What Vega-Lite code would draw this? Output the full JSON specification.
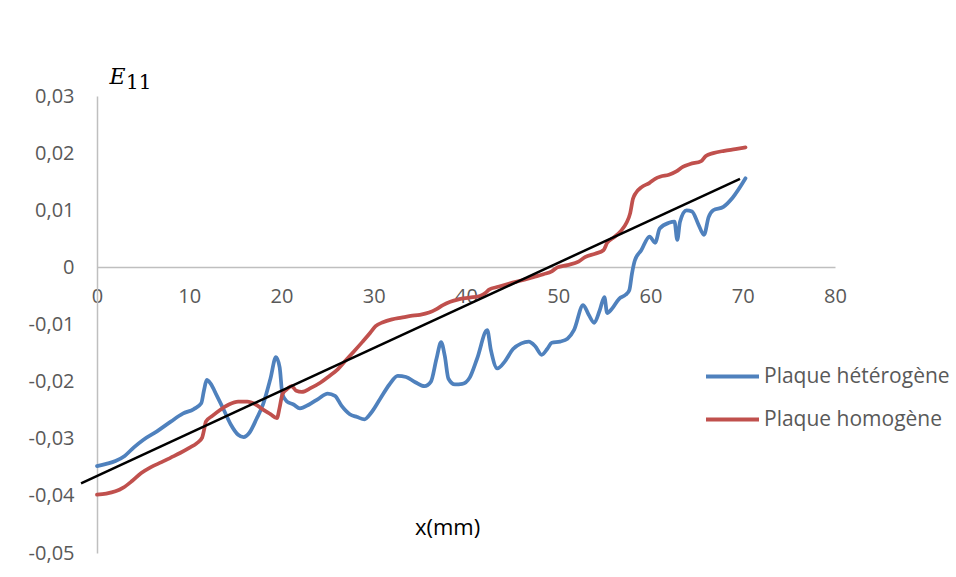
{
  "$schema": "https://vega.github.io/schema/vega-lite/v6.json",
  "width": 738,
  "height": 457,
  "autosize": {"type": "none"},
  "padding": {"left": 97, "top": 96, "right": 121, "bottom": 24},
  "background": "white",
  "config": {"view": {"stroke": null}, "font": "Open Sans"},
  "title": {
    "text": "11",
    "anchor": "start",
    "frame": "group",
    "font": "DejaVu Serif",
    "fontSize": 20,
    "fontWeight": "normal",
    "color": "#000000",
    "dx": 29,
    "dy": 51,
    "offset": 7,
    "baseline": "alphabetic"
  },
  "datasets": {
    "curves": [
      {"x": 0, "e11": -0.0348, "serie": "Plaque hétérogène"},
      {"x": 1, "e11": -0.0344, "serie": "Plaque hétérogène"},
      {"x": 2, "e11": -0.0339, "serie": "Plaque hétérogène"},
      {"x": 3, "e11": -0.033, "serie": "Plaque hétérogène"},
      {"x": 4, "e11": -0.0315, "serie": "Plaque hétérogène"},
      {"x": 5, "e11": -0.0302, "serie": "Plaque hétérogène"},
      {"x": 6.5, "e11": -0.0287, "serie": "Plaque hétérogène"},
      {"x": 8, "e11": -0.027, "serie": "Plaque hétérogène"},
      {"x": 9.3, "e11": -0.0256, "serie": "Plaque hétérogène"},
      {"x": 10.5, "e11": -0.0248, "serie": "Plaque hétérogène"},
      {"x": 11.3, "e11": -0.0238, "serie": "Plaque hétérogène"},
      {"x": 11.6, "e11": -0.0215, "serie": "Plaque hétérogène"},
      {"x": 11.9, "e11": -0.0197, "serie": "Plaque hétérogène"},
      {"x": 12.3, "e11": -0.0203, "serie": "Plaque hétérogène"},
      {"x": 13, "e11": -0.0225, "serie": "Plaque hétérogène"},
      {"x": 13.7, "e11": -0.0248, "serie": "Plaque hétérogène"},
      {"x": 14.5, "e11": -0.0275, "serie": "Plaque hétérogène"},
      {"x": 15.3, "e11": -0.0293, "serie": "Plaque hétérogène"},
      {"x": 15.9, "e11": -0.0297, "serie": "Plaque hétérogène"},
      {"x": 16.5, "e11": -0.029, "serie": "Plaque hétérogène"},
      {"x": 17.3, "e11": -0.0265, "serie": "Plaque hétérogène"},
      {"x": 18, "e11": -0.024, "serie": "Plaque hétérogène"},
      {"x": 18.8, "e11": -0.0195, "serie": "Plaque hétérogène"},
      {"x": 19.4, "e11": -0.0157, "serie": "Plaque hétérogène"},
      {"x": 19.8, "e11": -0.0175, "serie": "Plaque hétérogène"},
      {"x": 20.1, "e11": -0.0222, "serie": "Plaque hétérogène"},
      {"x": 20.6, "e11": -0.0235, "serie": "Plaque hétérogène"},
      {"x": 21.3, "e11": -0.024, "serie": "Plaque hétérogène"},
      {"x": 22, "e11": -0.0247, "serie": "Plaque hétérogène"},
      {"x": 23, "e11": -0.024, "serie": "Plaque hétérogène"},
      {"x": 24, "e11": -0.023, "serie": "Plaque hétérogène"},
      {"x": 25, "e11": -0.0221, "serie": "Plaque hétérogène"},
      {"x": 25.8, "e11": -0.0225, "serie": "Plaque hétérogène"},
      {"x": 26.5, "e11": -0.0242, "serie": "Plaque hétérogène"},
      {"x": 27.4, "e11": -0.0257, "serie": "Plaque hétérogène"},
      {"x": 28.2, "e11": -0.0262, "serie": "Plaque hétérogène"},
      {"x": 29, "e11": -0.0266, "serie": "Plaque hétérogène"},
      {"x": 29.7, "e11": -0.0255, "serie": "Plaque hétérogène"},
      {"x": 30.7, "e11": -0.023, "serie": "Plaque hétérogène"},
      {"x": 31.7, "e11": -0.0205, "serie": "Plaque hétérogène"},
      {"x": 32.6, "e11": -0.019, "serie": "Plaque hétérogène"},
      {"x": 33.5, "e11": -0.0192, "serie": "Plaque hétérogène"},
      {"x": 34.5, "e11": -0.0201, "serie": "Plaque hétérogène"},
      {"x": 35.5, "e11": -0.0208, "serie": "Plaque hétérogène"},
      {"x": 36.2, "e11": -0.02, "serie": "Plaque hétérogène"},
      {"x": 36.8, "e11": -0.016, "serie": "Plaque hétérogène"},
      {"x": 37.3, "e11": -0.0131, "serie": "Plaque hétérogène"},
      {"x": 37.7, "e11": -0.0155, "serie": "Plaque hétérogène"},
      {"x": 38.1, "e11": -0.0195, "serie": "Plaque hétérogène"},
      {"x": 38.8, "e11": -0.0205, "serie": "Plaque hétérogène"},
      {"x": 39.6, "e11": -0.0204, "serie": "Plaque hétérogène"},
      {"x": 40.4, "e11": -0.0193, "serie": "Plaque hétérogène"},
      {"x": 41.2, "e11": -0.016, "serie": "Plaque hétérogène"},
      {"x": 42.3, "e11": -0.011, "serie": "Plaque hétérogène"},
      {"x": 42.7, "e11": -0.0145, "serie": "Plaque hétérogène"},
      {"x": 43.4, "e11": -0.0177, "serie": "Plaque hétérogène"},
      {"x": 44.2, "e11": -0.0165, "serie": "Plaque hétérogène"},
      {"x": 45.1, "e11": -0.0143, "serie": "Plaque hétérogène"},
      {"x": 46, "e11": -0.0133, "serie": "Plaque hétérogène"},
      {"x": 46.8, "e11": -0.013, "serie": "Plaque hétérogène"},
      {"x": 47.5, "e11": -0.0138, "serie": "Plaque hétérogène"},
      {"x": 48.2, "e11": -0.0153, "serie": "Plaque hétérogène"},
      {"x": 48.8, "e11": -0.0143, "serie": "Plaque hétérogène"},
      {"x": 49.3, "e11": -0.0132, "serie": "Plaque hétérogène"},
      {"x": 50.2, "e11": -0.013, "serie": "Plaque hétérogène"},
      {"x": 51, "e11": -0.0125, "serie": "Plaque hétérogène"},
      {"x": 51.7, "e11": -0.011, "serie": "Plaque hétérogène"},
      {"x": 52.7, "e11": -0.0066, "serie": "Plaque hétérogène"},
      {"x": 53.3, "e11": -0.0083, "serie": "Plaque hétérogène"},
      {"x": 53.9, "e11": -0.0097, "serie": "Plaque hétérogène"},
      {"x": 54.5, "e11": -0.0075, "serie": "Plaque hétérogène"},
      {"x": 55, "e11": -0.0052, "serie": "Plaque hétérogène"},
      {"x": 55.3, "e11": -0.008, "serie": "Plaque hétérogène"},
      {"x": 55.8, "e11": -0.0073, "serie": "Plaque hétérogène"},
      {"x": 56.6, "e11": -0.0055, "serie": "Plaque hétérogène"},
      {"x": 57.3, "e11": -0.0048, "serie": "Plaque hétérogène"},
      {"x": 57.7, "e11": -0.004, "serie": "Plaque hétérogène"},
      {"x": 58, "e11": -0.001, "serie": "Plaque hétérogène"},
      {"x": 58.3, "e11": 0.0012, "serie": "Plaque hétérogène"},
      {"x": 59, "e11": 0.003, "serie": "Plaque hétérogène"},
      {"x": 59.9, "e11": 0.0054, "serie": "Plaque hétérogène"},
      {"x": 60.5, "e11": 0.0043, "serie": "Plaque hétérogène"},
      {"x": 61, "e11": 0.0068, "serie": "Plaque hétérogène"},
      {"x": 62, "e11": 0.0078, "serie": "Plaque hétérogène"},
      {"x": 62.6, "e11": 0.008, "serie": "Plaque hétérogène"},
      {"x": 62.9, "e11": 0.0048, "serie": "Plaque hétérogène"},
      {"x": 63.2, "e11": 0.008, "serie": "Plaque hétérogène"},
      {"x": 63.9, "e11": 0.01, "serie": "Plaque hétérogène"},
      {"x": 64.5, "e11": 0.0098, "serie": "Plaque hétérogène"},
      {"x": 65.2, "e11": 0.0075, "serie": "Plaque hétérogène"},
      {"x": 65.8, "e11": 0.0057, "serie": "Plaque hétérogène"},
      {"x": 66.3, "e11": 0.0088, "serie": "Plaque hétérogène"},
      {"x": 66.8, "e11": 0.01, "serie": "Plaque hétérogène"},
      {"x": 67.9, "e11": 0.0106, "serie": "Plaque hétérogène"},
      {"x": 68.9, "e11": 0.0122, "serie": "Plaque hétérogène"},
      {"x": 70.3, "e11": 0.0156, "serie": "Plaque hétérogène"},
      {"x": 0, "e11": -0.0398, "serie": "Plaque homogène"},
      {"x": 1, "e11": -0.0396, "serie": "Plaque homogène"},
      {"x": 2, "e11": -0.0392, "serie": "Plaque homogène"},
      {"x": 2.8, "e11": -0.0386, "serie": "Plaque homogène"},
      {"x": 3.8, "e11": -0.0374, "serie": "Plaque homogène"},
      {"x": 4.8, "e11": -0.036, "serie": "Plaque homogène"},
      {"x": 5.8, "e11": -0.035, "serie": "Plaque homogène"},
      {"x": 7, "e11": -0.0341, "serie": "Plaque homogène"},
      {"x": 8, "e11": -0.0333, "serie": "Plaque homogène"},
      {"x": 9, "e11": -0.0325, "serie": "Plaque homogène"},
      {"x": 10, "e11": -0.0316, "serie": "Plaque homogène"},
      {"x": 10.8, "e11": -0.0308, "serie": "Plaque homogène"},
      {"x": 11.4, "e11": -0.0298, "serie": "Plaque homogène"},
      {"x": 11.6, "e11": -0.0285, "serie": "Plaque homogène"},
      {"x": 11.8, "e11": -0.027, "serie": "Plaque homogène"},
      {"x": 12.5, "e11": -0.026, "serie": "Plaque homogène"},
      {"x": 13.3, "e11": -0.025, "serie": "Plaque homogène"},
      {"x": 14.3, "e11": -0.024, "serie": "Plaque homogène"},
      {"x": 15.3, "e11": -0.0235, "serie": "Plaque homogène"},
      {"x": 16.3, "e11": -0.0235, "serie": "Plaque homogène"},
      {"x": 17.2, "e11": -0.024, "serie": "Plaque homogène"},
      {"x": 18, "e11": -0.0249, "serie": "Plaque homogène"},
      {"x": 18.8, "e11": -0.0257, "serie": "Plaque homogène"},
      {"x": 19.5, "e11": -0.0264, "serie": "Plaque homogène"},
      {"x": 19.8, "e11": -0.0245, "serie": "Plaque homogène"},
      {"x": 20.1, "e11": -0.0222, "serie": "Plaque homogène"},
      {"x": 20.6, "e11": -0.0213, "serie": "Plaque homogène"},
      {"x": 21.1, "e11": -0.0208, "serie": "Plaque homogène"},
      {"x": 21.6, "e11": -0.0216, "serie": "Plaque homogène"},
      {"x": 22.2, "e11": -0.0218, "serie": "Plaque homogène"},
      {"x": 23.2, "e11": -0.0211, "serie": "Plaque homogène"},
      {"x": 24.2, "e11": -0.0202, "serie": "Plaque homogène"},
      {"x": 25.2, "e11": -0.019, "serie": "Plaque homogène"},
      {"x": 26, "e11": -0.018, "serie": "Plaque homogène"},
      {"x": 27, "e11": -0.0162, "serie": "Plaque homogène"},
      {"x": 27.8, "e11": -0.0148, "serie": "Plaque homogène"},
      {"x": 28.8, "e11": -0.013, "serie": "Plaque homogène"},
      {"x": 29.6, "e11": -0.0115, "serie": "Plaque homogène"},
      {"x": 30.2, "e11": -0.0103, "serie": "Plaque homogène"},
      {"x": 31, "e11": -0.0096, "serie": "Plaque homogène"},
      {"x": 32, "e11": -0.0091, "serie": "Plaque homogène"},
      {"x": 33, "e11": -0.0088, "serie": "Plaque homogène"},
      {"x": 34, "e11": -0.0085, "serie": "Plaque homogène"},
      {"x": 35, "e11": -0.0083, "serie": "Plaque homogène"},
      {"x": 36, "e11": -0.0079, "serie": "Plaque homogène"},
      {"x": 36.8, "e11": -0.0073, "serie": "Plaque homogène"},
      {"x": 37.5, "e11": -0.0066, "serie": "Plaque homogène"},
      {"x": 38.3, "e11": -0.006, "serie": "Plaque homogène"},
      {"x": 39.2, "e11": -0.0056, "serie": "Plaque homogène"},
      {"x": 40.4, "e11": -0.0053, "serie": "Plaque homogène"},
      {"x": 41.5, "e11": -0.005, "serie": "Plaque homogène"},
      {"x": 42.1, "e11": -0.0045, "serie": "Plaque homogène"},
      {"x": 42.5, "e11": -0.0039, "serie": "Plaque homogène"},
      {"x": 43.5, "e11": -0.0034, "serie": "Plaque homogène"},
      {"x": 44.8, "e11": -0.0028, "serie": "Plaque homogène"},
      {"x": 46, "e11": -0.0023, "serie": "Plaque homogène"},
      {"x": 47.3, "e11": -0.0017, "serie": "Plaque homogène"},
      {"x": 48.4, "e11": -0.0012, "serie": "Plaque homogène"},
      {"x": 49.3, "e11": -0.0007, "serie": "Plaque homogène"},
      {"x": 49.9, "e11": 0.0, "serie": "Plaque homogène"},
      {"x": 51, "e11": 0.0004, "serie": "Plaque homogène"},
      {"x": 52.2, "e11": 0.001, "serie": "Plaque homogène"},
      {"x": 52.9, "e11": 0.0018, "serie": "Plaque homogène"},
      {"x": 54, "e11": 0.0024, "serie": "Plaque homogène"},
      {"x": 54.9, "e11": 0.003, "serie": "Plaque homogène"},
      {"x": 55.3, "e11": 0.0043, "serie": "Plaque homogène"},
      {"x": 56, "e11": 0.0052, "serie": "Plaque homogène"},
      {"x": 56.8, "e11": 0.0064, "serie": "Plaque homogène"},
      {"x": 57.4, "e11": 0.0078, "serie": "Plaque homogène"},
      {"x": 57.8, "e11": 0.0095, "serie": "Plaque homogène"},
      {"x": 58.1, "e11": 0.012, "serie": "Plaque homogène"},
      {"x": 58.4, "e11": 0.013, "serie": "Plaque homogène"},
      {"x": 59, "e11": 0.014, "serie": "Plaque homogène"},
      {"x": 59.9, "e11": 0.0148, "serie": "Plaque homogène"},
      {"x": 60.5, "e11": 0.0155, "serie": "Plaque homogène"},
      {"x": 61.1, "e11": 0.0159, "serie": "Plaque homogène"},
      {"x": 62, "e11": 0.0162, "serie": "Plaque homogène"},
      {"x": 62.8, "e11": 0.0168, "serie": "Plaque homogène"},
      {"x": 63.5, "e11": 0.0176, "serie": "Plaque homogène"},
      {"x": 64.3, "e11": 0.0181, "serie": "Plaque homogène"},
      {"x": 65.5, "e11": 0.0186, "serie": "Plaque homogène"},
      {"x": 66, "e11": 0.0195, "serie": "Plaque homogène"},
      {"x": 66.8, "e11": 0.02, "serie": "Plaque homogène"},
      {"x": 68, "e11": 0.0204, "serie": "Plaque homogène"},
      {"x": 69.2, "e11": 0.0207, "serie": "Plaque homogène"},
      {"x": 70.3, "e11": 0.021, "serie": "Plaque homogène"}
    ],
    "trend": [
      {"x": -1.73, "e11": -0.0378},
      {"x": 69.7, "e11": 0.0155}
    ]
  },
  "layer": [
    {
      "data": {"name": "curves"},
      "mark": {"type": "line", "interpolate": "monotone", "strokeWidth": 3.75, "strokeCap": "round", "strokeJoin": "round"},
      "encoding": {
        "x": {
          "field": "x", "type": "quantitative",
          "scale": {"domain": [0, 80], "nice": false},
          "axis": {
            "values": [0, 10, 20, 30, 40, 50, 60, 70, 80],
            "offset": -286,
            "grid": false,
            "ticks": false,
            "domainColor": "#bfbfbf",
            "domainWidth": 1.5,
            "labelFont": "Open Sans",
            "labelFontSize": 20,
            "labelColor": "#595959",
            "labelPadding": 19,
            "labelFlush": false,
            "labelOverlap": false,
            "labelBound": false,
            "title": "x(mm)",
            "titleFont": "Open Sans",
            "titleFontSize": 22,
            "titleFontWeight": "normal",
            "titleColor": "#000000",
            "titleX": 350,
            "titleY": 260,
            "titleAlign": "center",
            "titleBaseline": "middle"
          }
        },
        "y": {
          "field": "e11", "type": "quantitative",
          "scale": {"domain": [-0.05, 0.03], "nice": false, "zero": false},
          "axis": {
            "values": [-0.05, -0.04, -0.03, -0.02, -0.01, 0, 0.01, 0.02, 0.03],
            "grid": false,
            "ticks": false,
            "domainColor": "#bfbfbf",
            "domainWidth": 1.5,
            "labelFont": "Open Sans",
            "labelFontSize": 20,
            "labelColor": "#595959",
            "labelPadding": 23,
            "labelFlush": false,
            "labelOverlap": false,
            "labelBound": false,
            "labelExpr": "datum.value == 0 ? '0' : replace(replace(format(datum.value, '.2f'), '.', ','), '\u2212', '-')",
            "title": "E",
            "titleFont": "DejaVu Serif",
            "titleFontStyle": "italic",
            "titleFontSize": 22,
            "titleFontWeight": "normal",
            "titleColor": "#000000",
            "titleAngle": 0,
            "titleX": 20,
            "titleY": -20,
            "titleAlign": "center",
            "titleBaseline": "middle"
          }
        },
        "color": {
          "field": "serie", "type": "nominal",
          "scale": {"domain": ["Plaque hétérogène", "Plaque homogène"], "range": ["#4f81bd", "#c0504d"]},
          "legend": {
            "orient": "none",
            "legendX": 607,
            "legendY": 252,
            "title": null,
            "symbolType": "stroke",
            "symbolSize": 2809,
            "symbolStrokeWidth": 4,
            "labelFont": "Open Sans",
            "labelFontSize": 21,
            "labelColor": "#595959",
            "labelOffset": 3,
            "labelLimit": 400,
            "rowPadding": 4
          }
        }
      }
    },
    {
      "data": {"name": "trend"},
      "mark": {"type": "line", "color": "#000000", "strokeWidth": 2.5, "clip": false},
      "encoding": {
        "x": {"field": "x", "type": "quantitative"},
        "y": {"field": "e11", "type": "quantitative"}
      }
    }
  ]
}
